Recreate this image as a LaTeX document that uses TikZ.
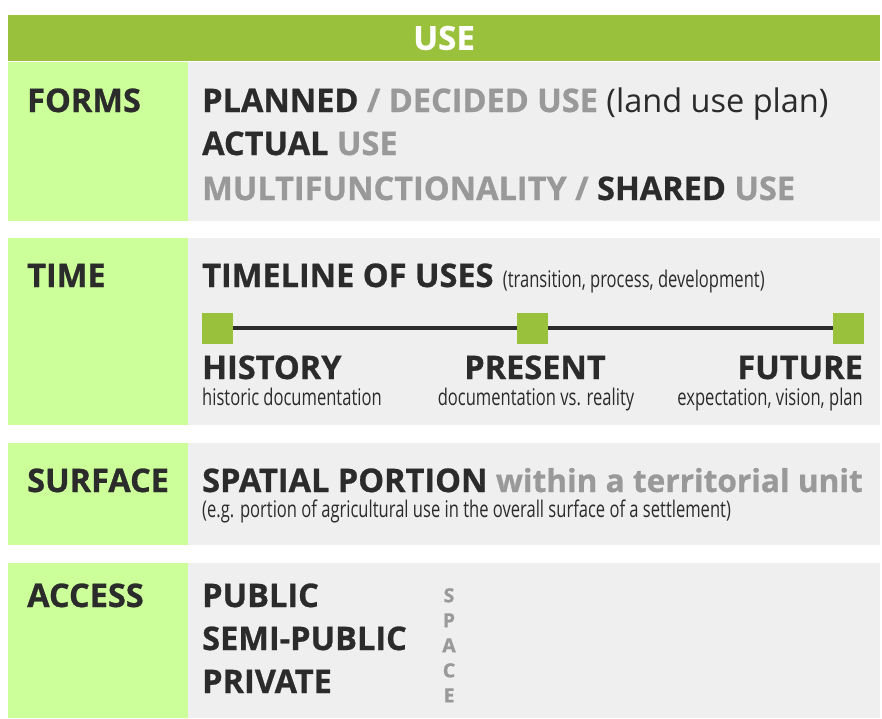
\documentclass[tikz,border=0pt]{standalone}
\usepackage{fontspec}
\setmainfont{Open Sans}[BoldFeatures={FakeBold=0.8}]
\newfontfamily\narrowfont[FakeStretch=0.72]{Open Sans}
\usetikzlibrary{positioning}

\definecolor{usegreen}{HTML}{9AC13C}
\definecolor{cellgreen}{HTML}{CCFF99}
\definecolor{cellgrey}{HTML}{EFEFEF}
\definecolor{darktext}{HTML}{2B2B2B}
\definecolor{greytext}{HTML}{999999}

\newcommand{\dk}[1]{{\color{darktext}#1}}
\newcommand{\gr}[1]{{\color{greytext}#1}}

\tikzset{
  bigtext/.style={inner sep=0pt, anchor=base west, text=darktext,
    font=\fontsize{32.5}{38}\selectfont\bfseries},
  smalltext/.style={inner sep=0pt, anchor=base west, text=darktext,
    font=\fontsize{23}{28}\selectfont\narrowfont},
  sq/.style={fill=usegreen, inner sep=0pt, minimum width=31pt, minimum height=31pt},
  tline/.style={line width=4pt, draw=darktext},
}

\begin{document}
\begin{tikzpicture}[x=1pt,y=-1pt]
  \useasboundingbox[fill=white] (0,0) rectangle (882,718);
  % header bar
  \fill[usegreen] (8,15) rectangle (880,61);
  \node[inner sep=0pt, text=white, font=\fontsize{33}{38}\selectfont\bfseries] (use) at (444,38) {USE};
  % rows
  \foreach \top/\bot in {62/221, 238/425, 443/545, 563/718} {
    \fill[cellgreen] (8,\top) rectangle (188,\bot);
    \fill[cellgrey] (188,\top) rectangle (880,\bot);
  }
  % left labels
  \node[bigtext] (forms) at (27,112) {FORMS};
  \node[bigtext] (time) at (27,287) {TIME};
  \node[bigtext] (surface) at (27,492) {SURFACE};
  \node[bigtext] (access) at (27,607) {ACCESS};

  % forms
  \node[bigtext] (planned) at (202,112) {PLANNED \gr{/ DECIDED USE} \dk{\mdseries (land use plan)}};
  \node[bigtext] (actual) at (202,155) {ACTUAL \gr{USE}};
  \node[bigtext] (multi) at (202,200) {\gr{MULTIFUNCTIONALITY /} SHARED \gr{USE}};

  % time
  \node[bigtext] (timeline) at (202,287) {TIMELINE OF USES};
  \node[smalltext] (timesub) at ([xshift=9pt]timeline.base east) {(transition, process, development)};
  \node[sq] (sqhist) at (217.5,328) {};
  \node[sq] (sqpres) at (532.5,328) {};
  \node[sq] (sqfut) at (848.5,328) {};
  \draw[tline] (sqhist) -- (sqpres);
  \draw[tline] (sqpres) -- (sqfut);
  \node[bigtext] (history) at (202,379) {HISTORY};
  \node[bigtext, anchor=base] (present) at (535,379) {PRESENT};
  \node[bigtext, anchor=base east] (future) at (863,379) {FUTURE};
  \node[smalltext] (histsub) at (202,405) {historic documentation};
  \node[smalltext, anchor=base] (pressub) at (536,405) {documentation vs. reality};
  \node[smalltext, anchor=base east] (futsub) at (863,405) {expectation, vision, plan};

  % surface
  \node[bigtext] (spatial) at (202,492) {SPATIAL PORTION \gr{\fontsize{31.6}{38}\selectfont within a territorial unit}};
  \node[smalltext] (spatialsub) at (202,517) {(e.g. portion of agricultural use in the overall surface of a settlement)};

  % access
  \node[bigtext] (public) at (202,607) {PUBLIC};
  \node[bigtext] (semipublic) at (202,650) {SEMI-PUBLIC};
  \node[bigtext] (private) at (202,693) {PRIVATE};
  \node[inner sep=0pt, anchor=north, align=center, text=greytext,
    font=\fontsize{19.5}{25}\selectfont\bfseries] (space) at (449,588) {S\\P\\A\\C\\E};
\end{tikzpicture}
\end{document}
